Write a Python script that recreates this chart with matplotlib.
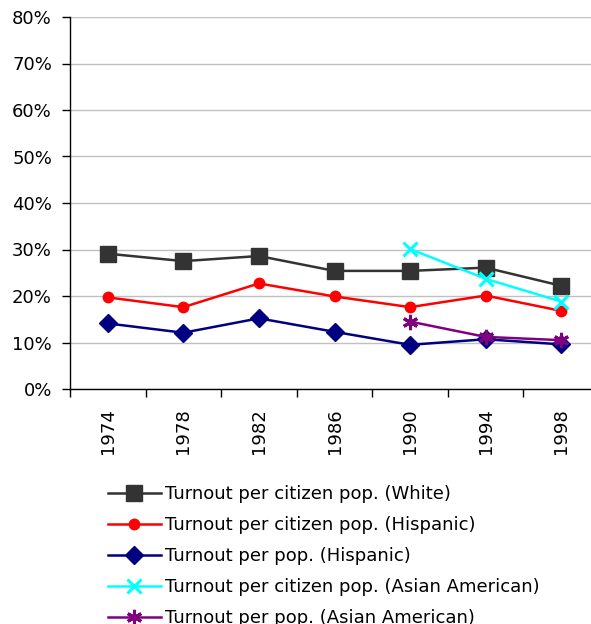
import numpy as np
import matplotlib.pyplot as plt
from matplotlib.ticker import FixedLocator, PercentFormatter

years = ["1974", "1978", "1982", "1986", "1990", "1994", "1998"]

white_citizen = [29.1, 27.5, 28.6, 25.4, 25.4, 26.1, 22.2]
hispanic_citizen = [19.7, 17.6, 22.7, 19.9, 17.6, 20.1, 16.8]
hispanic_pop = [14.1, 12.1, 15.2, 12.3, 9.5, 10.7, 9.6]
asian_citizen = [np.nan, np.nan, np.nan, np.nan, 30.1, 23.7, 18.8]
asian_pop = [np.nan, np.nan, np.nan, np.nan, 14.5, 11.2, 10.5]

labels = [
    "Turnout per citizen pop. (White)",
    "Turnout per citizen pop. (Hispanic)",
    "Turnout per pop. (Hispanic)",
    "Turnout per citizen pop. (Asian American)",
    "Turnout per pop. (Asian American)",
]

FS = 13
W, H = 591, 624
fig = plt.figure(figsize=(W / 100, H / 100), dpi=100)
ax = fig.add_axes([70 / W, 1 - 389 / H, 529 / W, 372 / H])

x = np.arange(len(years))
series = [
    (white_citizen, "#333333", "s", 11.5, 0),
    (hispanic_citizen, "#ff0000", "o", 7.5, 0),
    (hispanic_pop, "#000080", "D", 9.5, 0),
    (asian_citizen, "#00ffff", "x", 10, 2.2),
    (asian_pop, "#800080", (6, 2, 0), 11, 2.2),
]
handles = []
for (vals, color, mk, ms, mew), lab in zip(series, labels):
    kw = dict(color=color, marker=mk, markersize=ms, linewidth=1.8, label=lab)
    if mew:
        kw["markeredgewidth"] = mew
    else:
        kw["markeredgecolor"] = color
    h, = ax.plot(x, vals, **kw)
    handles.append(h)

ax.set_xlim(-0.5, len(years) - 0.5)
ax.set_ylim(0, 80)
ax.set_yticks(np.arange(0, 81, 10))
ax.yaxis.set_major_formatter(PercentFormatter(decimals=0))
ax.grid(axis="y", color="#c0c0c0", linewidth=1)
ax.set_axisbelow(True)

ax.set_xticks(x)
ax.set_xticklabels(years, rotation=90, fontsize=FS)
ax.tick_params(axis="x", which="major", length=0, pad=14)
ax.xaxis.set_minor_locator(FixedLocator(np.arange(-0.5, len(years), 1)))
ax.tick_params(axis="x", which="minor", length=6, width=1)
ax.tick_params(axis="y", length=6, width=1, labelsize=FS, pad=7)

for s in ["top", "right"]:
    ax.spines[s].set_visible(False)
for s in ["left", "bottom"]:
    ax.spines[s].set_linewidth(1)

fig.legend(handles=handles, loc="upper left",
           bbox_to_anchor=(101 / W, 1 - 478 / H),
           frameon=False, fontsize=FS, handlelength=2.9,
           handletextpad=0.22, labelspacing=0.72, borderaxespad=0)

fig.savefig("out.png", dpi=100)
